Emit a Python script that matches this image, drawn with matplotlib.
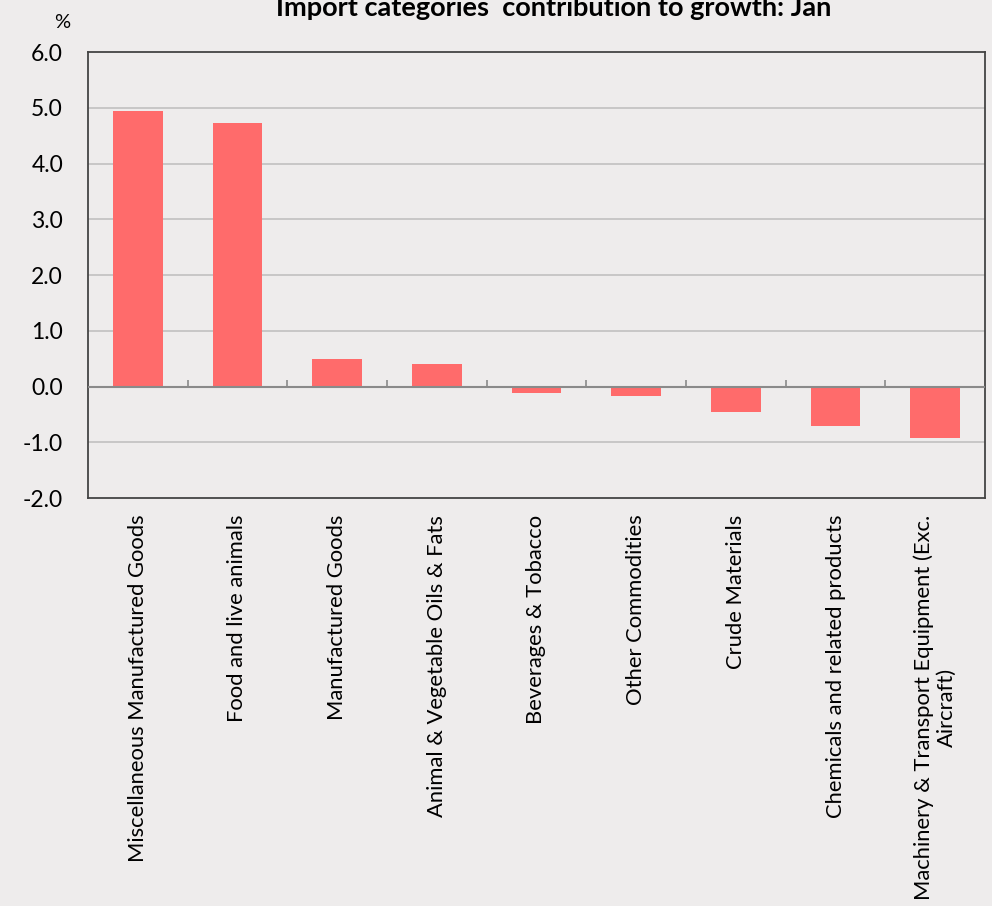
import numpy as np
import matplotlib
matplotlib.use("Agg")
import matplotlib.pyplot as plt

plt.rcParams['font.family'] = ['Lato', 'DejaVu Sans']

# data
categories = [
    "Miscellaneous Manufactured Goods",
    "Food and live animals",
    "Manufactured Goods",
    "Animal & Vegetable Oils & Fats",
    "Beverages & Tobacco",
    "Other Commodities",
    "Crude Materials",
    "Chemicals and related products",
    "Machinery & Transport Equipment (Exc.\nAircraft)",
]
values = [4.95, 4.73, 0.50, 0.41, -0.12, -0.17, -0.45, -0.71, -0.93]
yticks = [-2.0, -1.0, 0.0, 1.0, 2.0, 3.0, 4.0, 5.0, 6.0]

bg = "#eeecec"
fig = plt.figure(figsize=(9.92, 9.06), dpi=100, facecolor=bg)
ax = fig.add_axes([88 / 992, 1 - 498 / 906, (985 - 88) / 992, (498 - 52) / 906])
ax.set_facecolor(bg)

x = np.arange(len(categories))
ax.bar(x, values, width=0.5, color="#ff6b6b", zorder=3)

ax.set_xlim(-0.5, len(categories) - 0.5)
ax.set_ylim(-2, 6)
ax.set_yticks(yticks)
ax.set_yticklabels([f"{v:.1f}" for v in yticks], fontsize=16.5)
ax.tick_params(axis="y", length=0, pad=18)

ax.set_xticks(x)
ax.set_xticklabels(categories, rotation=90, fontsize=15.8, ha="center", va="top",
                   multialignment="center")
ax.tick_params(axis="x", length=0, pad=12)

# grid lines and zero line
for v in yticks[1:-1]:
    if v != 0:
        ax.axhline(v, color="#c4c4c4", lw=1.3, zorder=1)
ax.axhline(0, color="#8a8a8a", lw=1.5, zorder=4)
ax.vlines(np.arange(0.5, len(categories) - 0.5), 0, 0.11, color="#8a8a8a", lw=1.2, zorder=4)

for s in ax.spines.values():
    s.set_color("#444444")
    s.set_linewidth(1.3)

fig.text(62 / 992, 1 - 22 / 906, "%", fontsize=14.5, ha="center", va="center")
fig.text(554 / 992, 1 - 16 / 906, "Import categories  contribution to growth: Jan",
         fontsize=19.5, fontweight="bold", ha="center", va="baseline")

fig.savefig("out.png", dpi=100, facecolor=bg)
